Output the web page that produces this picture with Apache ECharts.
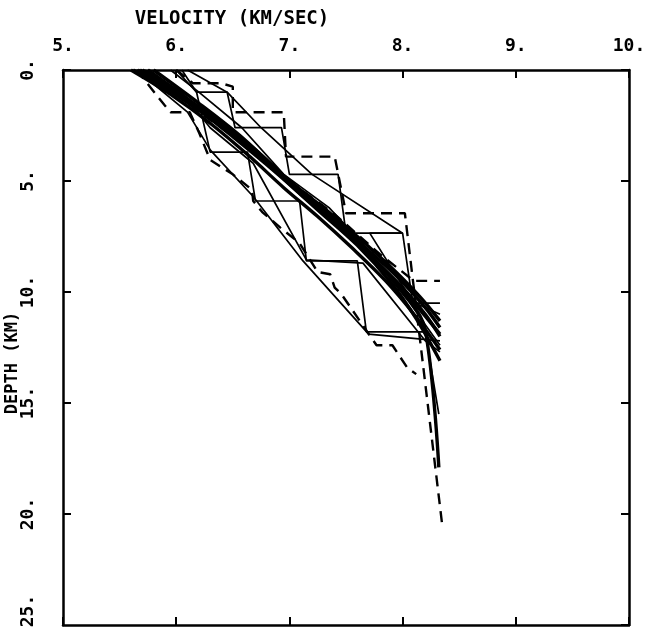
<!DOCTYPE html>
<html>
<head>
<meta charset="utf-8">
<script src="https://cdn.jsdelivr.net/npm/echarts@6/dist/echarts.min.js"></script>
<style>
html,body{margin:0;padding:0;background:#fff;}
#c{width:658px;height:635px;}
</style>
</head>
<body>
<div id="c"></div>
<script>
// Axis ticks
const velocityTicks = [5, 6, 7, 8, 9, 10];
const depthTicks = [0, 5, 10, 15, 20, 25];

// Smooth gradient models [velocity km/s, depth km]
const smooth1 = [[5.62,0],[6.0,1.0],[6.35,2.2],[6.7,3.6],[7.0,5.0],[7.3,6.2],[7.6,7.5],[7.9,8.9],[8.15,10.2],[8.33,11.3]];
const smooth2 = [[5.68,0],[6.05,1.2],[6.4,2.5],[6.75,3.9],[7.05,5.2],[7.35,6.5],[7.65,7.9],[7.95,9.3],[8.2,10.7],[8.33,11.6]];
const smooth3 = [[5.75,0],[6.1,1.3],[6.45,2.7],[6.8,4.2],[7.1,5.6],[7.4,6.9],[7.7,8.3],[8.0,9.8],[8.2,11.0],[8.33,12.0]];
const smooth4 = [[5.6,0],[5.95,1.1],[6.3,2.4],[6.65,3.9],[6.95,5.3],[7.25,6.6],[7.55,8.0],[7.85,9.5],[8.1,11.0],[8.33,12.6]];
const smooth5 = [[5.8,0],[6.2,1.5],[6.55,2.9],[6.85,4.3],[7.15,5.7],[7.5,7.3],[7.8,8.8],[8.05,10.3],[8.2,11.7],[8.32,17.9]];
const smooth6 = [[5.7,0],[6.15,1.6],[6.5,3.0],[6.9,4.7],[7.25,6.3],[7.6,7.9],[7.9,9.6],[8.12,11.2],[8.33,13.1]];
const smooth7 = [[5.66,0],[6.08,1.4],[6.42,2.6],[6.78,4.0],[7.08,5.4],[7.42,6.9],[7.72,8.4],[8.02,10.0],[8.33,11.9]];

// Layered models (thin solid)
const layerA = [[6.05,0],[6.18,1.0],[6.45,1.0],[6.52,2.6],[6.93,2.6],[7.0,4.7],[7.43,4.7],[7.5,7.35],[8.0,7.35],[8.09,10.5],[8.33,10.5]];
const layerB = [[6.0,0],[6.18,1.0],[6.3,3.7],[6.63,3.7],[6.7,5.9],[7.09,5.9],[7.15,8.6],[7.6,8.6],[7.68,11.8],[8.2,11.8],[8.32,15.5]];
const layerD = [[5.95,0],[6.2,1.0],[6.58,2.6],[6.95,4.7],[7.35,6.2],[7.56,7.35],[8.05,10.4],[8.33,12.4]];
const layerF = [[5.72,0],[6.05,1.0],[6.3,2.6],[6.68,4.2],[7.15,8.55],[7.65,8.7],[8.2,12.2],[8.33,12.7]];
const layerG = [[6.1,0],[6.45,1.0],[6.75,2.6],[7.2,4.7],[8.0,7.35],[7.71,7.35],[8.09,10.45],[8.33,11.0]];
const layerH = [[5.65,0],[6.1,1.9],[6.3,3.6],[6.68,5.7],[7.12,8.6],[7.7,11.9],[8.33,12.2]];

// Bounding models (dashed)
const boundFast = [[6.0,0],[6.15,0.6],[6.4,0.6],[6.5,0.75],[6.5,1.9],[6.95,1.9],[6.97,3.9],[7.4,3.9],[7.5,6.45],[8.02,6.45],[8.35,20.5]];
const boundSlow = [[5.65,0],[5.9,1.6],[5.95,1.9],[6.12,1.9],[6.2,2.8],[6.3,4.05],[6.5,4.7],[6.67,5.4],[6.68,5.9],[6.76,6.4],[6.92,7.1],[7.09,7.8],[7.25,9.1],[7.36,9.2],[7.4,9.8],[7.46,10.1],[7.77,12.4],[7.91,12.4],[8.04,13.4],[8.12,13.7]];
const boundMid = [[5.75,0],[6.2,1.9],[6.6,3.3],[7.0,5.0],[7.4,6.5],[7.8,8.3],[8.1,9.5],[8.33,9.5]];

const smoothSets = [smooth1, smooth2, smooth3, smooth4, smooth5, smooth6, smooth7];
const layerSets = [layerA, layerB, layerD, layerF, layerG, layerH];
const dashSets = [boundFast, boundSlow, boundMid];

const FONT = "'DejaVu Sans Mono','Liberation Mono',monospace";
const chart = echarts.init(document.getElementById('c'));

const series = [];
smoothSets.forEach(d => series.push({
  type:'line', data:d, symbol:'none', smooth:0.35, xAxisIndex:0, yAxisIndex:0,
  lineStyle:{color:'#000', width:3.4}, silent:true, animation:false
}));
layerSets.forEach(d => series.push({
  type:'line', data:d, symbol:'none', xAxisIndex:0, yAxisIndex:0,
  lineStyle:{color:'#000', width:1.7}, silent:true, animation:false
}));
dashSets.forEach(d => series.push({
  type:'line', data:d, symbol:'none', xAxisIndex:0, yAxisIndex:0,
  lineStyle:{color:'#000', width:2.4, type:[11,7]}, silent:true, animation:false
}));

const axisCommon = {
  type:'value', min:5, max:10, interval:1,
  axisLine:{show:true, onZero:false, lineStyle:{color:'#000', width:2.5}},
  axisTick:{show:true, inside:true, length:8, lineStyle:{color:'#000', width:2}},
  splitLine:{show:false}
};
const yCommon = {
  type:'value', min:0, max:25, interval:5, inverse:true,
  axisLine:{show:true, onZero:false, lineStyle:{color:'#000', width:2.5}},
  axisTick:{show:true, inside:true, length:8, lineStyle:{color:'#000', width:2}},
  splitLine:{show:false}
};

const LABEL_STYLE = {fontFamily:FONT, fontSize:18, fontWeight:'bold', fill:'#000'};
const lastDepth = depthTicks[depthTicks.length - 1];

chart.setOption({
  backgroundColor:'#fff',
  animation:false,
  grid:{left:63, top:70, right:29, bottom:10, containLabel:false, outerBoundsMode:'none'},
  xAxis:[
    Object.assign({}, axisCommon, {
      position:'top',
      axisLabel:{show:true, margin:15, fontFamily:FONT, fontSize:18, fontWeight:'bold', color:'#000',
        formatter: v => v + '.'}
    }),
    Object.assign({}, axisCommon, {position:'bottom', axisLabel:{show:false}})
  ],
  yAxis:[
    Object.assign({}, yCommon, {
      position:'left',
      axisLabel:{show:true, showMaxLabel:false, rotate:90, margin:26, fontFamily:FONT, fontSize:18, fontWeight:'bold', color:'#000',
        formatter: v => v + '.'}
    }),
    Object.assign({}, yCommon, {position:'right', axisLabel:{show:false}})
  ],
  graphic:[{
    type:'text', x:232, y:19,
    style:{text:'VELOCITY (KM/SEC)', fontFamily:FONT, fontSize:19, fontWeight:'bold', fill:'#000',
      textAlign:'center', textVerticalAlign:'middle'}
  },{
    type:'text', x:13, y:363, rotation:Math.PI/2,
    style:{text:'DEPTH (KM)', fontFamily:FONT, fontSize:17, fontWeight:'bold', fill:'#000',
      textAlign:'center', textVerticalAlign:'middle'}
  },{
    type:'text', x:28, y:611, rotation:Math.PI/2,
    style:Object.assign({text: lastDepth + '.', textAlign:'center', textVerticalAlign:'middle'}, LABEL_STYLE)
  }],
  series: series
});
</script>
</body>
</html>
